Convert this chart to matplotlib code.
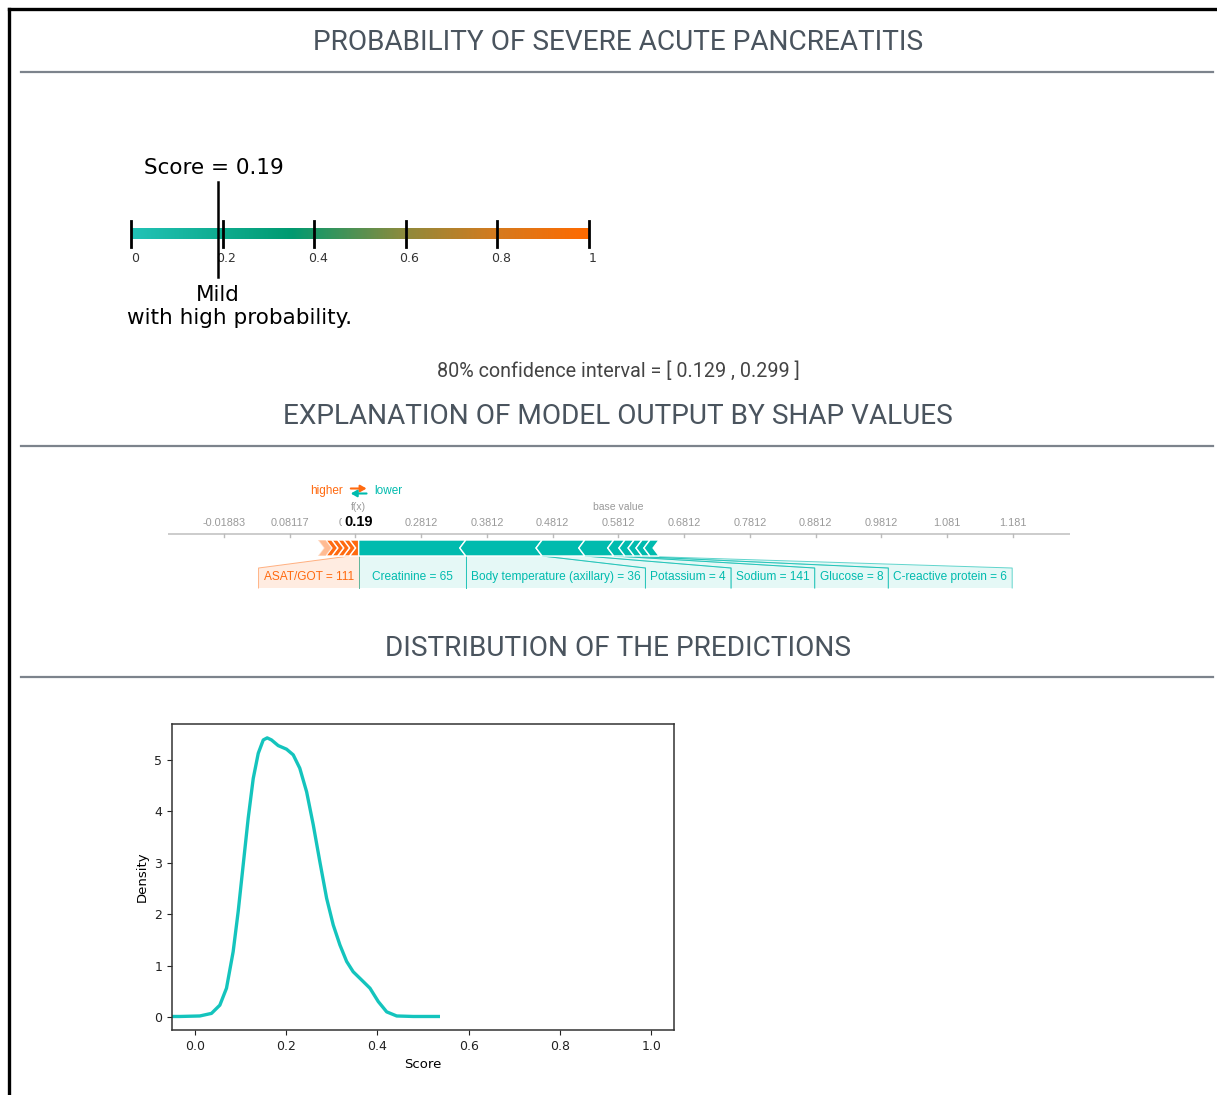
import numpy as np
import matplotlib.pyplot as plt
from matplotlib.colors import LinearSegmentedColormap
from matplotlib.lines import Line2D
from matplotlib.patches import Polygon

# ---- values ----
score = 0.19
ci_low, ci_high = 0.129, 0.299
gauge_ticks = [0, 0.2, 0.4, 0.6, 0.8, 1]
gauge_labels = ["0", "0.2", "0.4", "0.6", "0.8", "1"]
verdict = "Mild"
verdict_note = "with high probability."

base_value = 0.58117
pos_names = ["ASAT/GOT = 111", "", "", "", "", ""]
pos_shap = [0.014, 0.009, 0.009, 0.009, 0.009, 0.012]
neg_names = ["Creatinine = 65", "Body temperature (axillary) = 36", "Potassium = 4",
             "Sodium = 141", "Glucose = 8", "C-reactive protein = 6", "", "", ""]
neg_shap = [-0.163, -0.116, -0.065, -0.044, -0.017, -0.014, -0.012, -0.012, -0.014]

score_grid = [-0.05, -0.033, 0.011, 0.0365, 0.0548, 0.0694, 0.084, 0.095, 0.106, 0.117,
              0.128, 0.139, 0.150, 0.1586, 0.168, 0.1827, 0.201, 0.2156, 0.230, 0.245,
              0.2595, 0.274, 0.2888, 0.3033, 0.318, 0.3327, 0.347, 0.3655, 0.3838, 0.402,
              0.4204, 0.4423, 0.479, 0.5336]
density = [0.01, 0.01, 0.02, 0.07, 0.23, 0.56, 1.27, 2.05, 2.96, 3.87,
           4.64, 5.13, 5.39, 5.43, 5.39, 5.28, 5.21, 5.10, 4.84, 4.38,
           3.74, 3.02, 2.31, 1.79, 1.40, 1.08, 0.88, 0.72, 0.56, 0.30,
           0.10, 0.02, 0.01, 0.01]

TEAL = "#00bbae"
ORANGE = "#ff6a10"
W, H = 1217, 1095

fig = plt.figure(figsize=(W / 100, H / 100), dpi=100)


def fx_(x):
    return x / W


def fy_(y):
    return 1 - y / H


# page frame (screenshot border, top and left)
fig.add_artist(Line2D([fx_(9), fx_(W)], [fy_(9), fy_(9)], color="black", lw=2.4))
fig.add_artist(Line2D([fx_(9), fx_(9)], [fy_(9), 0], color="black", lw=2.4))

head_font = ["Roboto", "DejaVu Sans"]
for title, ty, ry in [("PROBABILITY OF SEVERE ACUTE PANCREATITIS", 42, 72),
                      ("EXPLANATION OF MODEL OUTPUT BY SHAP VALUES", 416, 446),
                      ("DISTRIBUTION OF THE PREDICTIONS", 649, 677)]:
    fig.text(fx_(618), fy_(ty), title, ha="center", va="center", fontsize=20.2,
             color="#4a545e", family=head_font)
    fig.add_artist(Line2D([fx_(21), fx_(1213)], [fy_(ry), fy_(ry)], color="#7c838c", lw=1.6))

fig.text(fx_(618), fy_(371), f"80% confidence interval = [ {ci_low} , {ci_high} ]",
         ha="center", va="center", fontsize=14.2, color="#444444", family=head_font)

# ---- gauge ----
axg = fig.add_axes([fx_(100), fy_(330), fx_(520), 180 / H])
axg.set_xlim(-31 / 458, 1 + 31 / 458)
axg.set_ylim(-9.6, 8.4)
axg.axis("off")
cmap = LinearSegmentedColormap.from_list(
    "gauge", [(0, "#22c3b7"), (0.35, "#009a70"), (0.6, "#8f8a3c"), (0.8, "#d57a1e"), (1, "#ff6a00")])
axg.imshow(np.linspace(0, 1, 256)[None, :], cmap=cmap, aspect="auto",
           extent=[0, 1, -0.55, 0.55], zorder=1)
for t, lab in zip(gauge_ticks, gauge_labels):
    axg.plot([t, t], [-1.3, 1.3], color="black", lw=2, zorder=2)
    axg.text(t + 0.008, -2.4, lab, ha="center", va="center", fontsize=9, color="#333333")
axg.plot([score, score], [-4.3, 5.2], color="black", lw=1.8, zorder=3)
axg.text(score - 0.01, 6.6, f"Score = {score}", ha="center", va="center", fontsize=15.5)
axg.text(score, -6.1, verdict, ha="center", va="center", fontsize=15.5)
axg.text(score + 0.048, -8.4, verdict_note, ha="center", va="center", fontsize=15.5)

# ---- SHAP force plot ----
axs = fig.add_axes([fx_(168), fy_(595), fx_(902), 115 / H])
axs.set_xlim(base_value - 0.685, base_value + 0.687)
axs.set_ylim(115, 0)
axs.axis("off")
pxu = 902 / 1.372
tip = 6 / pxu
pad = 5 / pxu
bar_top, bar_bot, bar_mid = 60, 76, 68
fx = base_value + sum(pos_shap) + sum(neg_shap)

axs.axhline(54, color="#cccccc", lw=1.4)
for k in range(-6, 7):
    t = base_value + 0.1 * k
    axs.plot([t, t], [54, 57], color="#bbbbbb", lw=1)
    axs.text(t, 43, "%.4g" % t, ha="center", va="center", fontsize=7.8,
             color="#999999", family="Liberation Sans")
axs.text(fx, 42, f"{fx:.2f}", ha="center", va="center", fontsize=10.5, weight="bold",
         family="Liberation Sans", bbox=dict(facecolor="white", edgecolor="none", pad=1.5))
axs.text(fx, 27, "f(x)", ha="center", va="center", fontsize=7.5, color="#999999",
         family="Liberation Sans")
axs.text(base_value, 27, "base value", ha="center", va="center", fontsize=7.5,
         color="#999999", family="Liberation Sans")
axs.text(fx - 0.024, 11, "higher", ha="right", va="center", fontsize=8.5, color=ORANGE,
         family="Liberation Sans")
axs.text(fx + 0.024, 11, "lower", ha="left", va="center", fontsize=8.5, color=TEAL,
         family="Liberation Sans")
axs.annotate("", xy=(fx + 0.012, 8.5), xytext=(fx - 0.012, 8.5),
             arrowprops=dict(arrowstyle="-|>,head_length=0.35,head_width=0.2", color=ORANGE,
                             lw=1.5, shrinkA=0, shrinkB=0, mutation_scale=10))
axs.annotate("", xy=(fx - 0.012, 13.5), xytext=(fx + 0.012, 13.5),
             arrowprops=dict(arrowstyle="-|>,head_length=0.35,head_width=0.2", color=TEAL,
                             lw=1.5, shrinkA=0, shrinkB=0, mutation_scale=10))

renderer = fig.canvas.get_renderer()


def text_width(t):
    bb = t.get_window_extent(renderer)
    return bb.width / pxu


# positive features: stacked leftwards from f(x), pointing right
right = fx
for i, (name, v) in enumerate(zip(pos_names, pos_shap)):
    left = right - v
    tr = 0 if i == 0 else tip
    pts = [(left, bar_top), (right, bar_top), (right + tr, bar_mid), (right, bar_bot),
           (left, bar_bot), (left + tip, bar_mid)]
    alpha = 0.45 if i == len(pos_shap) - 1 else 1
    axs.add_patch(Polygon(pts, closed=True, facecolor=ORANGE, edgecolor="white", lw=1,
                          alpha=alpha, zorder=3))
    if name:
        txt = axs.text(0, 97, name, ha="center", va="center", fontsize=8.6, color=ORANGE,
                       family="Liberation Sans", zorder=4)
        w = text_width(txt) + 2 * pad
        box_r = right
        box_l = min(left, box_r - w)
        txt.set_x((box_l + box_r) / 2)
        axs.add_patch(Polygon([(left, bar_bot), (right, bar_bot), (box_r, 88), (box_r, 108),
                               (box_l, 108), (box_l, 88)], closed=True, facecolor=ORANGE,
                              edgecolor="none", alpha=0.12, zorder=1))
        axs.plot([left, box_l, box_l], [bar_bot, 88, 108], color=ORANGE, lw=0.7, alpha=0.5)
        axs.plot([right, box_r, box_r], [bar_bot, 88, 108], color=ORANGE, lw=0.7, alpha=0.5)
    right = left

# negative features: stacked rightwards from f(x), pointing left
left = fx
cursor = fx
for i, (name, v) in enumerate(zip(neg_names, neg_shap)):
    right = left - v
    tl = 0 if i == 0 else tip
    pts = [(left, bar_top), (right, bar_top), (right - tip, bar_mid), (right, bar_bot),
           (left, bar_bot), (left - tl, bar_mid)]
    axs.add_patch(Polygon(pts, closed=True, facecolor=TEAL, edgecolor="white", lw=1, zorder=3))
    if name:
        txt = axs.text(0, 97, name, ha="center", va="center", fontsize=8.6, color=TEAL,
                       family="Liberation Sans", zorder=4)
        w = text_width(txt) + 2 * pad
        box_l = max(cursor, left)
        box_r = box_l + max(right - left, w)
        txt.set_x((box_l + box_r) / 2)
        axs.add_patch(Polygon([(left, bar_bot), (right, bar_bot), (box_r, 88), (box_r, 108),
                               (box_l, 108), (box_l, 88)], closed=True, facecolor=TEAL,
                              edgecolor="none", alpha=0.10, zorder=1))
        axs.plot([left, box_l, box_l], [bar_bot, 88, 108], color=TEAL, lw=0.7, alpha=0.6)
        axs.plot([right, box_r, box_r], [bar_bot, 88, 108], color=TEAL, lw=0.7, alpha=0.6)
        cursor = box_r
    left = right

# ---- density of predictions ----
axd = fig.add_axes([fx_(172), fy_(1030), fx_(502), 306 / H])
axd.plot(score_grid, density, color="#14c4bd", lw=2.4, solid_joinstyle="round")
axd.set_xlim(-0.05, 1.05)
axd.set_ylim(-0.253, 5.70)
axd.set_xticks([0.0, 0.2, 0.4, 0.6, 0.8, 1.0])
axd.set_yticks([0, 1, 2, 3, 4, 5])
axd.tick_params(labelsize=9, colors="#222222")
axd.set_xlabel("Score", fontsize=9.5)
axd.set_ylabel("Density", fontsize=9.5)
for s in axd.spines.values():
    s.set_color("#333333")
    s.set_linewidth(1.1)

fig.savefig("out.png", dpi=100)
